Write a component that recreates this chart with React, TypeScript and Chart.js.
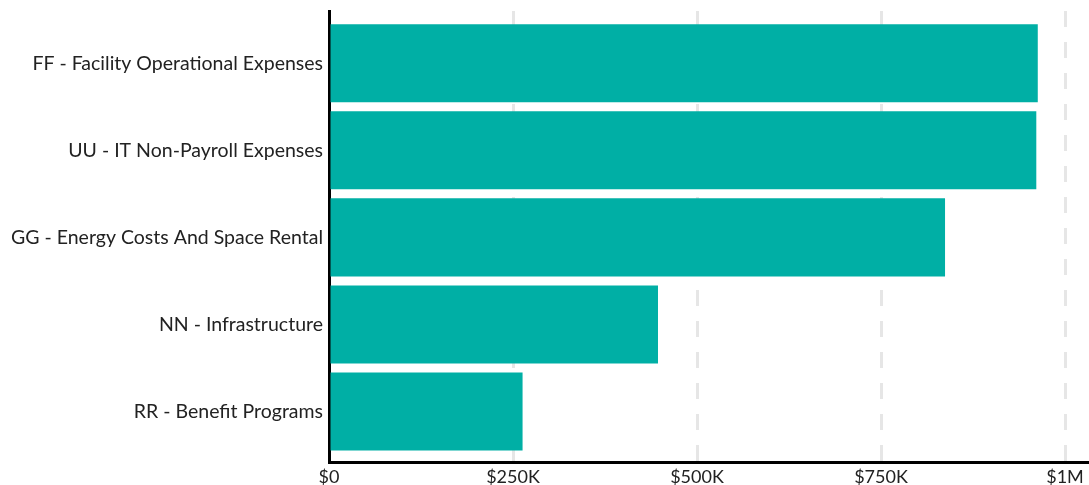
import React, { useEffect, useRef } from 'react';
import { Chart, registerables } from 'chart.js';

Chart.register(...registerables);

const categories = [
  'FF - Facility Operational Expenses',
  'UU - IT Non-Payroll Expenses',
  'GG - Energy Costs And Space Rental',
  'NN - Infrastructure',
  'RR - Benefit Programs',
];
const values = [963000, 961000, 837000, 447000, 263000];
const tickValues = [0, 250000, 500000, 750000, 1000000];
const tickLabels = ['$0', '$250K', '$500K', '$750K', '$1M'];

const BAR_COLOR = '#00AFA5';
const TEXT_COLOR = '#222222';
const FONT = 'Lato, "Open Sans", sans-serif';

export default function App() {
  const ref = useRef<HTMLCanvasElement | null>(null);

  useEffect(() => {
    if (!ref.current) return;
    const chart = new Chart(ref.current, {
      type: 'bar',
      data: {
        datasets: [
          {
            data: values.map((v, i) => ({ x: v, y: i })),
            backgroundColor: BAR_COLOR,
            borderWidth: 0,
            barPercentage: 0.896,
            categoryPercentage: 1,
          },
        ],
      },
      options: {
        indexAxis: 'y',
        animation: false,
        responsive: true,
        maintainAspectRatio: false,
        layout: { padding: { top: 11, right: 0, left: 0, bottom: 0 } },
        plugins: {
          legend: { display: false },
          tooltip: { enabled: false },
        },
        scales: {
          x: {
            type: 'linear',
            position: 'bottom',
            bounds: 'data',
            offset: false,
            min: 0,
            max: 1032600,
            afterBuildTicks: (s: any) => {
              s.ticks = tickValues.map((v) => ({ value: v }));
            },
            afterFit: (s: any) => {
              s.height = 23;
            },
            grid: {
              color: '#e6e6e6',
              lineWidth: 3,
              drawTicks: false,
              offset: false,
            },
            border: {
              display: true,
              color: '#000000',
              width: 3,
              dash: [16, 15],
            },
            ticks: {
              padding: 4,
              color: TEXT_COLOR,
              font: { family: FONT, size: 18 },
              maxRotation: 0,
              callback: (v: any) => {
                const idx = tickValues.indexOf(Number(v));
                return idx >= 0 ? tickLabels[idx] : '';
              },
            },
          },
          y: {
            type: 'linear',
            position: 'left',
            bounds: 'data',
            offset: false,
            reverse: true,
            min: -0.6,
            max: 4.58,
            afterBuildTicks: (s: any) => {
              s.ticks = categories.map((_, i) => ({ value: i }));
            },
            afterFit: (s: any) => {
              s.width = 329;
              s.paddingTop = 0;
              s.paddingBottom = 0;
            },
            grid: { display: false, drawTicks: false, offset: false },
            border: { display: true, color: '#000000', width: 3 },
            ticks: {
              padding: 6,
              color: TEXT_COLOR,
              font: { family: FONT, size: 19.5 },
              callback: (v: any) => categories[Number(v)] ?? '',
            },
          },
        },
      },
    });
    return () => chart.destroy();
  }, []);

  return (
    <div style={{ position: 'fixed', left: 0, top: 0, width: 1089, height: 485, background: '#fff' }}>
      <canvas ref={ref} />
    </div>
  );
}
